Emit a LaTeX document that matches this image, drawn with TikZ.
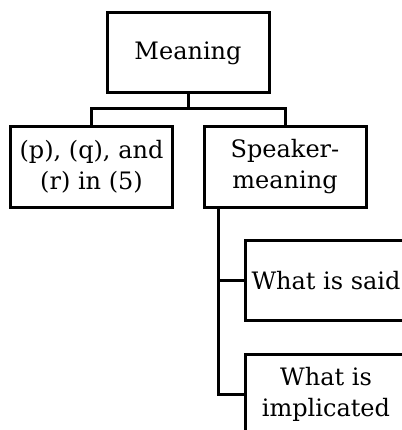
\documentclass[tikz,border=0pt]{standalone}
\usepackage{fontspec}
\setmainfont{DejaVu Serif}
\begin{document}
\begin{tikzpicture}[x=1pt,y=-1pt,
  box/.style={draw, line width=3pt, minimum width=162pt, minimum height=80pt,
    inner sep=0pt, align=center, font=\fontsize{24}{31}\selectfont},
  link/.style={line width=3pt}]
\useasboundingbox (0,0) rectangle (401,430);
% tree nodes
\node[box] (mean) at (188,53) {Meaning};
\node[box] (pqr) at (91.5,167) {(p), (q), and\\(r) in (5)};
\node[box] (spk) at (285,167) {Speaker-\\meaning};
\node[box] (said) at (326,280.5) {What is said};
\node[box] (impl) at (326,394) {What is\\implicated};
% fork below the root
\coordinate (fork) at (188,109);
\draw[link] (mean.south) -- (fork);
\draw[link] (pqr.north) |- (fork) -| (spk.north);
% trunk below the speaker-meaning box
\coordinate (trunk) at ([xshift=16pt]spk.south west);
\draw[link] (trunk) |- (said.west);
\draw[link] (trunk) |- (impl.west);
\end{tikzpicture}
\end{document}
